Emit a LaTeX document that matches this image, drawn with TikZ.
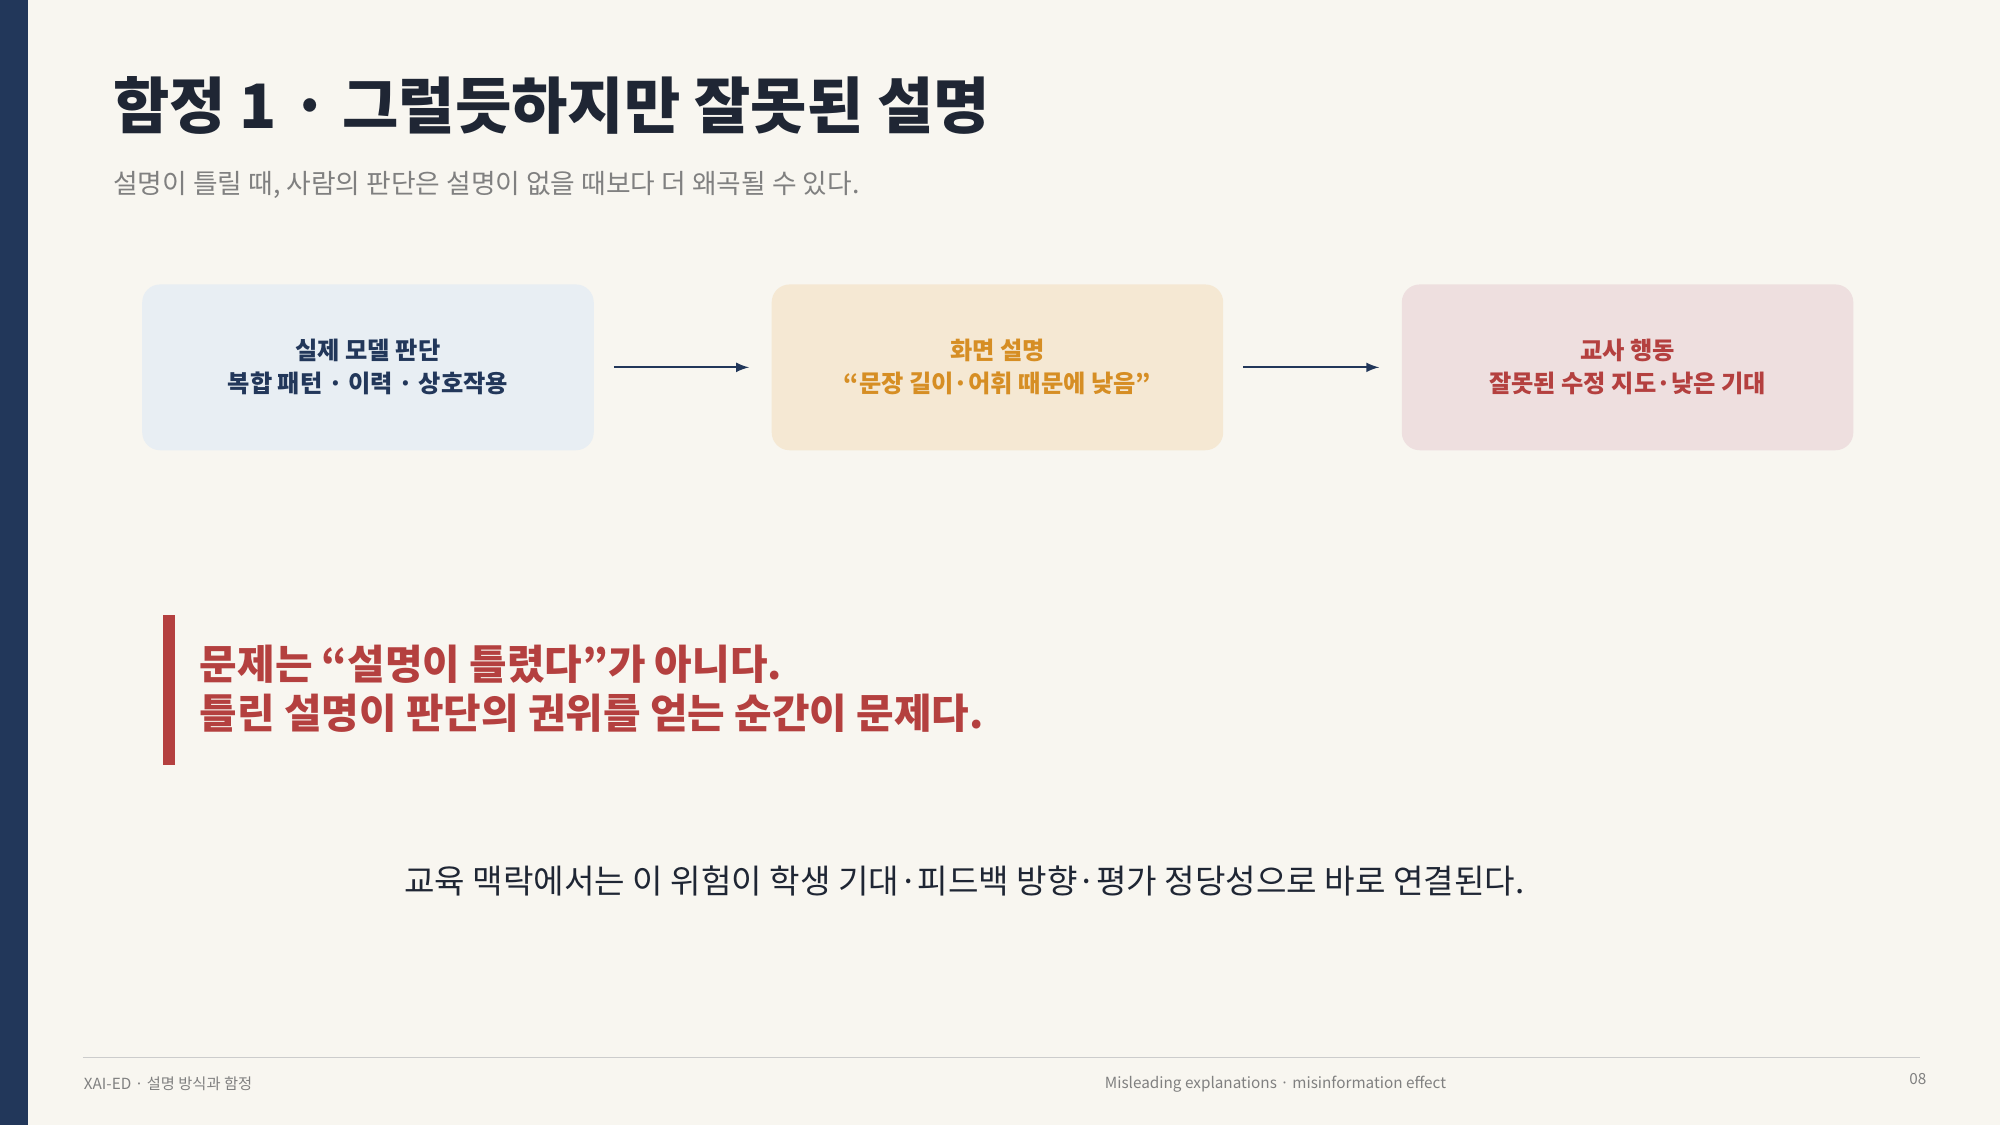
\documentclass[tikz,border=0pt]{standalone}
\usepackage{fontspec}
\setmainfont{Noto Sans CJK KR}
\usetikzlibrary{positioning}
\definecolor{navy}{RGB}{34,55,90}
\definecolor{paper}{RGB}{248,246,240}
\definecolor{ink}{RGB}{31,38,52}
\definecolor{ochre}{RGB}{214,142,36}
\definecolor{brick}{RGB}{180,64,63}
\tikzset{every picture/.style={line width=0.75pt}}
\tikzset{
  stage/.style={rounded corners=7pt, minimum width=177pt, minimum height=65pt, align=center, font=\fontsize{9.5}{13}\selectfont\bfseries, inner sep=0pt},
  flow/.style={-latex, draw=navy, line width=0.75pt},
  foot/.style={font=\fontsize{6}{7}\selectfont, text=gray, inner sep=0pt}
}
\begin{document}
\begin{tikzpicture}[x=0.5pt,y=0.5pt,yscale=-1,xscale=1]
% background and side bar
\fill[paper] (0,0) rectangle (1568,882);
\useasboundingbox (0,0) rectangle (1568,882);
\fill[navy] (0,0) rectangle (22,882);

% Title
\node (title) [anchor=west, inner sep=0pt, text=ink, font=\fontsize{24}{28}\selectfont\bfseries] at (88,83) {함정 1 · 그럴듯하지만 잘못된 설명};
\node (sub) [anchor=west, inner sep=0pt, text=gray, font=\fontsize{10.5}{13}\selectfont] at (88,145) {설명이 틀릴 때, 사람의 판단은 설명이 없을 때보다 더 왜곡될 수 있다.};

% Flow boxes
\node (model) [stage, fill={rgb,255:red,232;green,238;blue,243}, text=navy] at (288.5,288) {실제 모델 판단\\복합 패턴 · 이력 · 상호작용};
\node (screen) [stage, fill={rgb,255:red,245;green,232;blue,211}, text=ochre] at (782,288) {화면 설명\\“문장 길이·어휘 때문에 낮음”};
\node (teacher) [stage, fill={rgb,255:red,238;green,223;blue,223}, text=brick] at (1276,288) {교사 행동\\잘못된 수정 지도·낮은 기대};
\draw[flow] ([xshift=7.5pt]model.east) -- ([xshift=-8.5pt]screen.west);
\draw[flow] ([xshift=7.5pt]screen.east) -- ([xshift=-8.5pt]teacher.west);

% Key message
\fill[brick] (128,482) rectangle (137,600);
\node (msg) [anchor=west, inner sep=0pt, text=brick, align=left, font=\fontsize{16}{19}\selectfont\bfseries] at (156,540) {문제는 “설명이 틀렸다”가 아니다.\\틀린 설명이 판단의 권위를 얻는 순간이 문제다.};

\node (note) [inner sep=0pt, text=ink, font=\fontsize{13}{16}\selectfont] at (756,691) {교육 맥락에서는 이 위험이 학생 기대·피드백 방향·평가 정당성으로 바로 연결된다.};

% Footer
\draw[gray!40, line width=0.5pt] (65,829) -- (1505,829);
\node (left) [foot, anchor=west] at (65,850) {XAI-ED · 설명 방식과 함정};
\node (mid) [foot] at (1000,850) {Misleading explanations · misinformation effect};
\node (page) [foot, anchor=east] at (1511,846) {08};
\end{tikzpicture}
\end{document}
